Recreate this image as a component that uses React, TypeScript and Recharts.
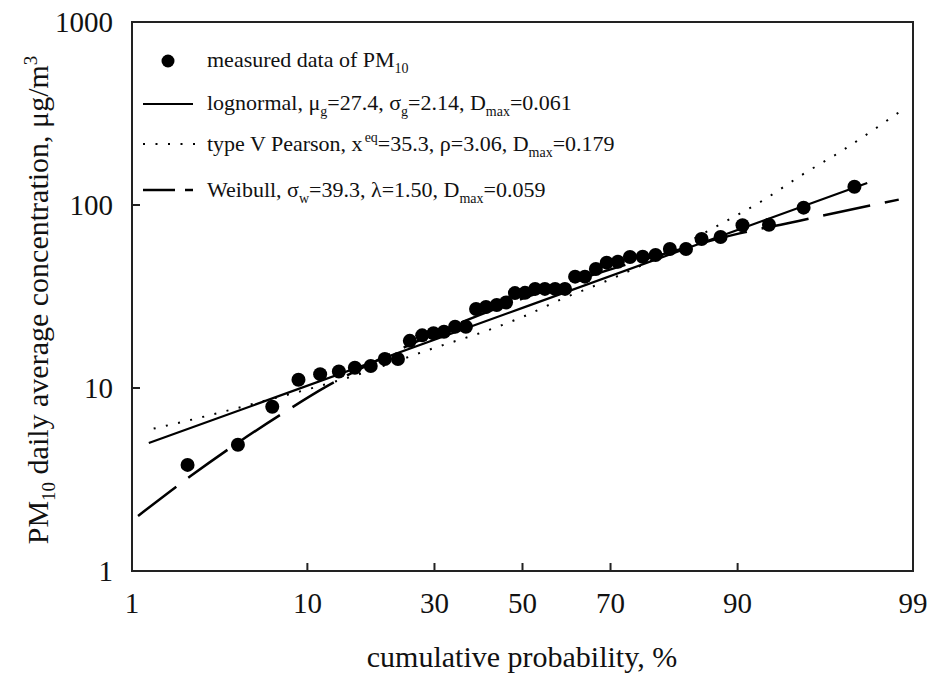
import React from "react";
import { ComposedChart, Line, Scatter, XAxis, YAxis, ReferenceArea } from "recharts";

const FONT = "'Liberation Serif', 'Times New Roman', Times, serif";
const INK = "#111";

// measured PM10 daily averages, plotted at their cumulative probability (%)
const measuredProb = [
  2.3, 4.5, 6.8, 9.1, 11.4, 13.7, 15.9, 18.3, 20.6, 22.9, 25.1, 27.5, 29.8, 32.0,
  34.4, 36.8, 39.1, 41.4, 43.9, 46.1, 48.2, 50.6, 53.0, 55.3, 57.7, 60.0, 62.3, 64.5,
  66.9, 69.2, 71.5, 73.9, 76.3, 78.6, 81.0, 83.5, 85.7, 88.1, 90.5, 92.9, 95.3, 97.6,
];
const measuredConc = [
  3.8, 4.9, 7.9, 11.1, 11.9, 12.3, 12.9, 13.2, 14.4, 14.4, 18.1, 19.4, 19.9, 20.3,
  21.6, 21.6, 27.0, 27.7, 28.4, 29.3, 33.0, 33.1, 34.8, 34.8, 34.8, 34.8, 40.6, 40.6,
  44.7, 48.4, 49.0, 52.0, 52.1, 53.3, 57.5, 57.5, 65.2, 66.9, 77.5, 78.0, 96.7, 125.9,
];

// fitted curves
const lognormalProb = [1.3, 50, 98.0];
const lognormalConc = [5.0, 27.4, 132];

const pearsonProb = [1.4, 2.1, 5.7, 16.2, 30.1, 41.4, 50.1, 58.8, 70.1, 79.7, 87.3, 92.5, 95.2, 97.1, 98.8];
const pearsonConc = [6.0, 6.5, 8.3, 11.8, 16.6, 20.5, 24.5, 30.3, 39.4, 53.0, 75.2, 107, 146, 196, 328];

const weibullProb = [1.1, 2.4, 4.6, 8, 12, 20, 30, 40, 50, 60, 70, 80, 90.2, 95, 96.5, 98.75];
const weibullConc = [2.0, 3.3, 5.1, 7.5, 10.1, 14.5, 19.8, 25.1, 30.8, 37.1, 44.5, 54.0, 70, 81.7, 88.5, 107];

const probTicks = [1, 10, 30, 50, 70, 90, 99];
const concTicks = [1, 10, 100, 1000];

// inverse normal CDF (Acklam), gives the probability-paper x position
function probit(pct: number) {
  const p = pct / 100;
  const a = [-39.69683028665376, 220.9460984245205, -275.9285104469687, 138.357751867269, -30.66479806614716, 2.506628277459239];
  const b = [-54.47609879822406, 161.5858368580409, -155.6989798598866, 66.80131188771972, -13.28068155288572];
  const c = [-0.007784894002430293, -0.3223964580411365, -2.400758277161838, -2.549732539343734, 4.374664141464968, 2.938163982698783];
  const d = [0.007784695709041462, 0.3224671290700398, 2.445134137142996, 3.754408661907416];
  const tail = (q: number) =>
    (((((c[0] * q + c[1]) * q + c[2]) * q + c[3]) * q + c[4]) * q + c[5]) /
    ((((d[0] * q + d[1]) * q + d[2]) * q + d[3]) * q + 1);
  if (p < 0.02425) return tail(Math.sqrt(-2 * Math.log(p)));
  if (p > 1 - 0.02425) return -tail(Math.sqrt(-2 * Math.log(1 - p)));
  const q = p - 0.5;
  const r = q * q;
  return ((((((a[0] * r + a[1]) * r + a[2]) * r + a[3]) * r + a[4]) * r + a[5]) * q) /
    (((((b[0] * r + b[1]) * r + b[2]) * r + b[3]) * r + b[4]) * r + 1);
}

const toPoints = (prob: number[], conc: number[]) =>
  prob.map((p, i) => ({ z: probit(p), pct: p, y: conc[i] }));

const measured = toPoints(measuredProb, measuredConc);
const lognormal = toPoints(lognormalProb, lognormalConc);
const pearson = toPoints(pearsonProb, pearsonConc);
const weibull = toPoints(weibullProb, weibullConc);

const zTicks = probTicks.map(probit);
const zMin = probit(1);
const zMax = probit(99);

const tickStyle = { fontSize: 29, fill: INK, fontFamily: FONT };

function Overlay() {
  const sub = { fontSize: 14 };
  return (
    <svg width={932} height={677} style={{ position: "absolute", left: 0, top: 0, pointerEvents: "none" }}>
      <g fontFamily={FONT} fill={INK}>
        {/* legend */}
        <circle cx={168} cy={61} r={6.5} fill="#000" />
        <text x={207} y={67} fontSize={22}>
          measured data of PM<tspan dy={6} {...sub}>10</tspan>
        </text>
        <line x1={143} x2={193} y1={104} y2={104} stroke="#000" strokeWidth={2.2} />
        <text x={207} y={110} fontSize={22}>
          lognormal, μ<tspan dy={6} {...sub}>g</tspan>
          <tspan dy={-6}>=27.4, σ</tspan><tspan dy={6} {...sub}>g</tspan>
          <tspan dy={-6}>=2.14, D</tspan><tspan dy={6} {...sub}>max</tspan>
          <tspan dy={-6}>=0.061</tspan>
        </text>
        <line x1={143} x2={195} y1={144} y2={144} stroke="#000" strokeWidth={2} strokeDasharray="2 10.5" />
        <text x={207} y={151} fontSize={22}>
          type V Pearson, x<tspan dx={2} dy={-9} {...sub}>eq</tspan>
          <tspan dy={9}>=35.3, ρ=3.06, D</tspan><tspan dy={6} {...sub}>max</tspan>
          <tspan dy={-6}>=0.179</tspan>
        </text>
        <line x1={143} x2={175} y1={190} y2={190} stroke="#000" strokeWidth={2.5} />
        <line x1={185} x2={193} y1={190} y2={190} stroke="#000" strokeWidth={2.5} />
        <text x={207} y={197} fontSize={22}>
          Weibull, σ<tspan dy={6} {...sub}>w</tspan>
          <tspan dy={-6}>=39.3, λ=1.50, D</tspan><tspan dy={6} {...sub}>max</tspan>
          <tspan dy={-6}>=0.059</tspan>
        </text>

        {/* axis titles */}
        <text x={522} y={667} fontSize={30} textAnchor="middle">
          cumulative probability, %
        </text>
        <text transform="translate(48 300) rotate(-90)" fontSize={30} textAnchor="middle">
          PM<tspan dy={7} fontSize={19}>10</tspan>
          <tspan dy={-7}> daily average concentration, μg/m</tspan>
          <tspan dy={-11} fontSize={19}>3</tspan>
        </text>
      </g>
    </svg>
  );
}

export default function App() {
  return (
    <div style={{ position: "absolute", left: 0, top: 0, width: 932, height: 677, background: "#fff" }}>
      <ComposedChart width={932} height={677} margin={{ top: 22, right: 19, bottom: 46, left: 32 }}>
        <XAxis
          dataKey="z"
          type="number"
          domain={[zMin, zMax]}
          ticks={zTicks}
          allowDataOverflow
          tickFormatter={(v: number) => String(probTicks[zTicks.findIndex((t) => Math.abs(t - v) < 1e-6)] ?? "")}
          height={60}
          tickSize={-8}
          tickMargin={29}
          tick={tickStyle}
          stroke="#222"
          strokeWidth={2}
        />
        <YAxis
          dataKey="y"
          type="number"
          scale="log"
          domain={[1, 1000]}
          ticks={concTicks}
          allowDataOverflow
          width={100}
          tickSize={-8}
          tickMargin={27}
          tick={tickStyle}
          stroke="#222"
          strokeWidth={2}
        />
        <ReferenceArea x1={zMin} x2={zMax} y1={1} y2={1000} fill="none" stroke="#222" strokeWidth={2} />
        <Line
          data={lognormal}
          dataKey="y"
          type="linear"
          stroke="#000"
          strokeWidth={2.2}
          dot={false}
          activeDot={false}
          isAnimationActive={false}
        />
        <Line
          data={pearson}
          dataKey="y"
          type="monotone"
          stroke="#000"
          strokeWidth={2}
          strokeDasharray="2 10.5"
          dot={false}
          activeDot={false}
          isAnimationActive={false}
        />
        <Line
          data={weibull}
          dataKey="y"
          type="monotone"
          stroke="#000"
          strokeWidth={2.5}
          strokeDasharray="48 15"
          dot={false}
          activeDot={false}
          isAnimationActive={false}
        />
        <Scatter
          data={measured}
          dataKey="y"
          fill="#000"
          isAnimationActive={false}
          shape={(p: any) => <circle cx={p.cx} cy={p.cy} r={7} fill="#000" />}
        />
      </ComposedChart>
      <Overlay />
    </div>
  );
}
